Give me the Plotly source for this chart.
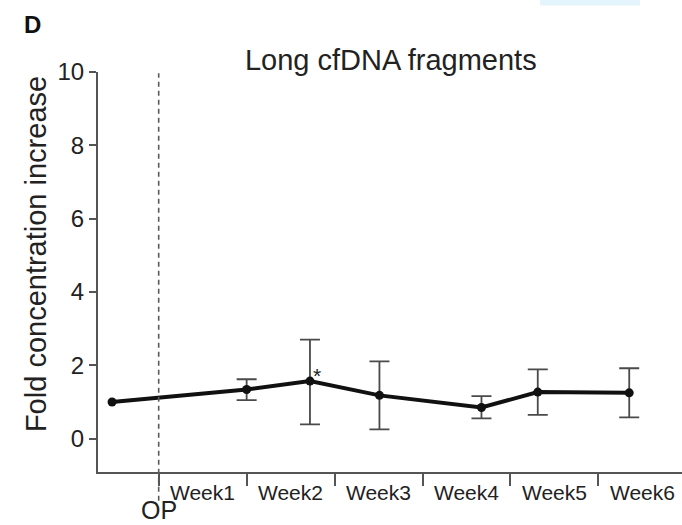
import plotly.graph_objects as go

# Time points, in weeks after the operation (OP = 0)
baseline_week = [-0.53]
week_labels = ["Week1", "Week2", "Week3", "Week4", "Week5", "Week6"]
week_times = [1.0, 1.72, 2.51, 3.67, 4.31, 5.35]

# Fold concentration increase of long cfDNA fragments
baseline_value = [1.0]
week_means = [1.34, 1.57, 1.18, 0.85, 1.27, 1.25]
week_upper = [1.62, 2.70, 2.11, 1.16, 1.89, 1.92]
week_lower = [1.05, 0.39, 0.25, 0.55, 0.65, 0.58]

# Week boundaries on the x axis (tick marks) and label positions (centres)
week_bounds = [0, 1, 2, 3, 4, 5, 6]
label_centres = [0.5, 1.5, 2.5, 3.5, 4.5, 5.5]
y_ticks = [0, 2, 4, 6, 8, 10]

FONT = "Liberation Sans, Arial, sans-serif"
TXT = "#222222"
AXC = "#555555"

all_x = baseline_week + week_times
all_y = baseline_value + week_means

fig = go.Figure()

# error bars (weeks only)
fig.add_trace(go.Scatter(
    x=week_times, y=week_means, mode="markers",
    marker=dict(size=1, color="rgba(0,0,0,0)"),
    error_y=dict(
        type="data", symmetric=False,
        array=[u - m for u, m in zip(week_upper, week_means)],
        arrayminus=[m - l for m, l in zip(week_means, week_lower)],
        color="#4a4a4a", thickness=1.8, width=10,
    ),
    hoverinfo="skip", showlegend=False,
))

# mean line with points
fig.add_trace(go.Scatter(
    x=all_x, y=all_y, mode="lines+markers",
    line=dict(color="#111111", width=4),
    marker=dict(size=9, color="#111111"),
    showlegend=False,
))

annotations = []
for lab, xc in zip(week_labels, label_centres):
    annotations.append(dict(
        x=xc, xref="x", y=0, yref="paper", yanchor="middle", yshift=-20,
        text=lab, showarrow=False, font=dict(family=FONT, size=21, color=TXT),
    ))
annotations.append(dict(
    x=0, xref="x", y=0, yref="paper", yanchor="middle", yshift=-38,
    text="OP", showarrow=False, font=dict(family=FONT, size=25, color=TXT),
))
# significance marker at Week2
annotations.append(dict(
    x=week_times[1], xref="x", y=week_means[1], yref="y",
    xshift=7, yshift=6, text="*", showarrow=False,
    font=dict(family=FONT, size=21, color=TXT),
))
# panel letter
annotations.append(dict(
    x=-0.112, xref="paper", y=1.118, yref="paper", text="<b>D</b>", showarrow=False,
    xanchor="center", yanchor="middle",
    font=dict(family=FONT, size=24, color="#111111"),
))
# y-axis title
annotations.append(dict(
    x=-0.106, xref="paper", y=0.545, yref="paper", textangle=-90,
    xanchor="center", yanchor="middle", showarrow=False,
    text="Fold concentration increase",
    font=dict(family=FONT, size=29, color=TXT),
))

shapes = [
    # operation day marker
    dict(type="line", xref="x", yref="paper", x0=0, x1=0, y0=-0.072, y1=0.997,
         line=dict(color="#5a5a5a", width=1.6, dash="5px,4px")),
    # faint blue strip at top of the panel
    dict(type="rect", xref="paper", yref="paper", x0=0.757, x1=0.928,
         y0=1.166, y1=1.182, line=dict(width=0), fillcolor="#e4f4fc"),
]

fig.update_layout(
    width=682, height=525,
    margin=dict(l=98, r=0, t=72, b=53),
    paper_bgcolor="white", plot_bgcolor="white",
    font=dict(family=FONT, color=TXT),
    title=dict(text="Long cfDNA fragments", x=0.573, xanchor="center",
               y=0.886, yanchor="middle", font=dict(family=FONT, size=29, color=TXT)),
    annotations=annotations,
    shapes=shapes,
)

fig.update_xaxes(
    range=[-0.69, 5.95], showgrid=False, zeroline=False,
    showline=True, linecolor=AXC, linewidth=2,
    tickmode="array", tickvals=week_bounds, ticktext=[""] * len(week_bounds),
    ticks="outside", ticklen=12, tickwidth=1.5, tickcolor=AXC,
    showticklabels=False,
)
fig.update_yaxes(
    range=[-0.91, 10], showgrid=False, zeroline=False,
    showline=True, linecolor=AXC, linewidth=2,
    tickmode="array", tickvals=y_ticks,
    ticks="outside", ticklen=7, tickwidth=1.5, tickcolor=AXC,
    tickfont=dict(family=FONT, size=24, color=TXT),
)

fig.write_html("out.html")
